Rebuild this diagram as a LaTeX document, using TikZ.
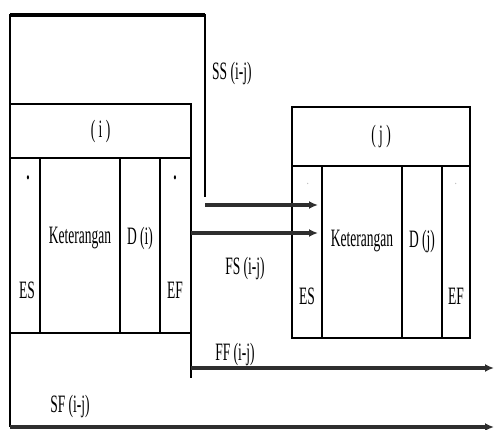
\documentclass[tikz,border=0pt]{standalone}
\usepackage{fontspec}
\setmainfont{Liberation Serif}[FakeStretch=0.54]
\usepackage{tikz}
\usetikzlibrary{arrows.meta, positioning, calc}

\begin{document}
\begin{tikzpicture}[
    x=1pt, y=-1pt,
    cell/.style={draw, line width=1.2pt, inner sep=0pt, outer sep=0pt, minimum width=#1},
    txt/.style={inner sep=0pt, font=\fontsize{25}{25}\selectfont},
    frame/.style={line width=1.8pt},
    link/.style={-{Latex[length=9pt, width=8pt]}, line width=3.2pt, black!82},
]
    \useasboundingbox (0, 0) rectangle (495, 430);

    % Activity i
    \node[cell=181, minimum height=54] (hi) at (100.5, 131) {};
    \node[cell=30, minimum height=175] (esi) at (25, 245.5) {};
    \node[cell=80, minimum height=175] (keti) at (80, 245.5) {};
    \node[cell=40, minimum height=175] (di) at (140, 245.5) {};
    \node[cell=31, minimum height=175] (efi) at (175.5, 245.5) {};

    % Activity j
    \node[cell=178, minimum height=59] (hj) at (381, 136.5) {};
    \node[cell=30, minimum height=172] (esj) at (307, 252) {};
    \node[cell=80, minimum height=172] (ketj) at (362, 252) {};
    \node[cell=40, minimum height=172] (dj) at (422, 252) {};
    \node[cell=28, minimum height=172] (efj) at (456, 252) {};

    % Texts i
    \node[txt] (ti) at (hi) {( i )};
    \node[txt] (dotesi) at (28, 178) {\textbf{.}};
    \node[txt] (dotefi) at (175, 178) {\textbf{.}};
    \node[txt] (tketi) at (80, 238) {Keterangan};
    \node[txt] (tdi) at (140, 238) {D (i)};
    \node[txt] (tesi) at (27, 290) {ES};
    \node[txt] (tefi) at (175, 290) {EF};

    % Texts j
    \node[txt] (tj) at (hj) {( j )};
    \node[txt, black!45, font=\fontsize{12}{12}\selectfont] (dotesj) at (308, 184) {.};
    \node[txt, black!45, font=\fontsize{12}{12}\selectfont] (dotefj) at (456, 184) {.};
    \node[txt] (tketj) at (362, 241) {Keterangan};
    \node[txt] (tdj) at (422, 241) {D (j)};
    \node[txt] (tesj) at (307, 296) {ES};
    \node[txt] (tefj) at (456, 296) {EF};

    % SS (i-j)
    \coordinate (sstop) at (205, 15);
    \coordinate (ssend) at (318, 205);
    \draw[frame] (hi.north west) |- (sstop) -- (sstop |- 0, 197);
    \draw[line width=3.6pt] (hi.north west |- sstop) -- (sstop);
    \draw[link] (sstop |- ssend) -- (ssend);
    \node[txt, anchor=west] (tss) at (212, 73) {SS (i-j)};

    % FS (i-j)
    \coordinate (fsend) at (318, 233);
    \draw[link] (efi.east |- fsend) -- (fsend);
    \node[txt] (tfs) at (245, 268) {FS (i-j)};

    % FF (i-j)
    \coordinate (ffend) at (494, 368);
    \draw[frame] (efi.south east) -- ++(0, 45);
    \draw[link] (efi.south east |- ffend) -- (ffend);
    \node[txt] (tff) at (235, 354) {FF (i-j)};

    % SF (i-j)
    \coordinate (sfend) at (494, 427);
    \draw[frame] (esi.south west) -- (esi.south west |- sfend);
    \draw[link] (esi.south west |- sfend) -- (sfend);
    \node[txt] (tsf) at (70, 406) {SF (i-j)};
\end{tikzpicture}
\end{document}
